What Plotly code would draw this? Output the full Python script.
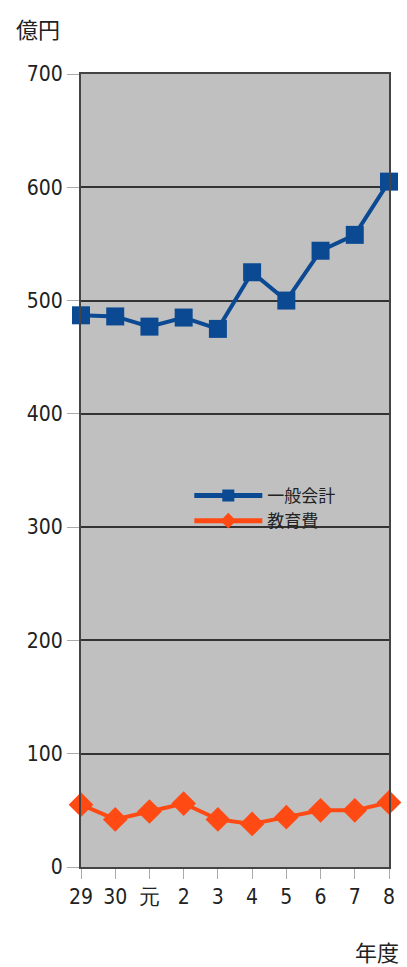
import plotly.graph_objects as go

categories = ["29", "30", "元", "2", "3", "4", "5", "6", "7", "8"]
general = [487, 486, 477, 485, 475, 525, 500, 544, 558, 605]
education = [55, 42, 49, 56, 42, 38, 44, 50, 50, 57]
y_ticks = [0, 100, 200, 300, 400, 500, 600, 700]

xs = list(range(len(categories)))
fig = go.Figure()
fig.add_trace(go.Scatter(x=xs, y=general, name="一般会計", mode="lines+markers",
                         line=dict(color="#0b4a93", width=4),
                         marker=dict(symbol="square", size=18, color="#0b4a93"),
                         cliponaxis=False))
fig.add_trace(go.Scatter(x=xs, y=education, name="教育費", mode="lines+markers",
                         line=dict(color="#ff4a14", width=4),
                         marker=dict(symbol="diamond", size=19, color="#ff4a14"),
                         cliponaxis=False))

x_font = dict(family="DejaVu Sans Condensed", size=21, color="#222")
y_font = dict(family="DejaVu Sans Condensed", size=21, color="#222")
fig.update_layout(
    width=407, height=967,
    margin=dict(l=81, r=16, t=74, b=100),
    paper_bgcolor="white", plot_bgcolor="#c0c0c0",
    showlegend=True,
    legend=dict(x=(195 - 81 - 5) / 310, y=(867 - 478) / 793, xanchor="left", yanchor="top",
                bgcolor="rgba(0,0,0,0)",
                font=dict(family="Noto Sans CJK JP", size=17, color="#222"),
                tracegroupgap=0, itemwidth=68, itemsizing="constant"),
    font=dict(family="Noto Sans CJK JP"),
)
fig.update_xaxes(range=[0, 9], tickvals=xs, ticktext=categories, showgrid=False,
                 ticks="outside", ticklen=10, tickcolor="#aaa", tickfont=x_font,
                 showline=True, linecolor="#444", linewidth=2, mirror=True, zeroline=False)
fig.update_yaxes(range=[0, 700], tickvals=y_ticks, showgrid=True, gridcolor="#333", gridwidth=1.5,
                 ticks="outside", ticklen=12, tickcolor="#aaa", tickfont=y_font,
                 showline=True, linecolor="#444", linewidth=2, mirror=True, zeroline=False)

fig.add_annotation(text="億円", xref="paper", yref="paper", x=(14 - 81) / 310, y=(867 - 28) / 793,
                   xanchor="left", yanchor="middle", showarrow=False,
                   font=dict(family="Noto Sans CJK JP", size=22, color="#222"))
fig.add_annotation(text="年度", xref="paper", yref="paper", x=(403 - 81) / 310, y=(867 - 951) / 793,
                   xanchor="right", yanchor="middle", showarrow=False,
                   font=dict(family="Noto Sans CJK JP", size=22, color="#222"))

fig.write_html("out.html")
